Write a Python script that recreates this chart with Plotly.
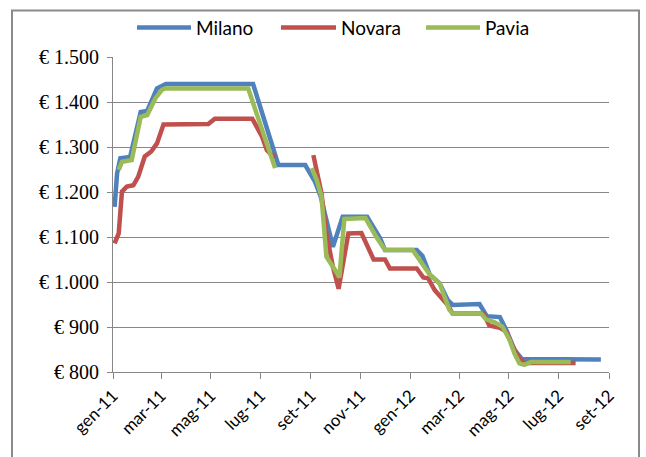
import plotly.graph_objects as go

# Weekly fuel price observations (EUR) for three provinces
series_names = ["Milano", "Novara", "Pavia"]
series_colors = ["#4F81BD", "#C0504D", "#9BBB59"]

milano_dates = [
    "2011-01-03", "2011-01-06", "2011-01-10", "2011-01-22", "2011-02-04", "2011-02-12",
    "2011-02-24", "2011-03-07", "2011-06-22", "2011-07-23", "2011-08-25", "2011-09-06",
    "2011-09-13", "2011-09-28", "2011-10-10", "2011-11-09", "2011-11-25", "2011-12-01",
    "2012-01-09", "2012-01-16", "2012-01-25", "2012-02-06", "2012-02-16", "2012-02-22",
    "2012-03-26", "2012-04-04", "2012-04-20", "2012-04-28", "2012-05-08", "2012-05-17",
    "2012-08-22",
]
milano_values = [
    1167, 1241, 1275, 1278, 1378, 1380,
    1430, 1440, 1440, 1260, 1260, 1223,
    1190, 1078, 1145, 1145, 1097, 1071,
    1071, 1058, 1016, 997, 960, 949,
    951, 924, 922, 893, 849, 829,
    828,
]

novara_dates = [
    "2011-01-03", "2011-01-08", "2011-01-12", "2011-01-18", "2011-01-26", "2011-02-01",
    "2011-02-09", "2011-02-17", "2011-02-24", "2011-03-04", "2011-04-28", "2011-05-06",
    "2011-06-21", "2011-07-03", "2011-07-09", "2011-07-15", "2011-07-20", "2011-08-15",
    "2011-09-04", "2011-09-08", "2011-09-14", "2011-09-20", "2011-09-28", "2011-10-05",
    "2011-10-17", "2011-11-02", "2011-11-17", "2011-12-01", "2011-12-07", "2012-01-09",
    "2012-01-17", "2012-01-23", "2012-01-31", "2012-02-16", "2012-02-22", "2012-03-31",
    "2012-04-07", "2012-04-20", "2012-04-28", "2012-05-05", "2012-05-14", "2012-05-20",
    "2012-07-22",
]
novara_values = [
    1086, 1108, 1201, 1212, 1215, 1234,
    1279, 1290, 1308, 1350, 1351, 1363,
    1363, 1323, 1293, 1282, 1279, None,
    1282, 1249, 1197, 1108, 1034, 985,
    1108, 1109, 1050, 1050, 1030, 1030,
    1010, 1008, 982, 949, 930, 930,
    903, 898, 890, 860, 830, 820,
    820,
]

pavia_dates = [
    "2011-01-08", "2011-01-12", "2011-01-24", "2011-01-30", "2011-02-04", "2011-02-12",
    "2011-02-22", "2011-03-02", "2011-03-06", "2011-06-16", "2011-07-19", "2011-08-15",
    "2011-09-02", "2011-09-08", "2011-09-14", "2011-09-20", "2011-10-02", "2011-10-06",
    "2011-10-12", "2011-11-07", "2011-11-20", "2011-12-01", "2012-01-04", "2012-01-14",
    "2012-01-25", "2012-02-06", "2012-02-13", "2012-02-18", "2012-02-22", "2012-03-28",
    "2012-04-03", "2012-04-13", "2012-04-23", "2012-05-02", "2012-05-08", "2012-05-14",
    "2012-05-20", "2012-05-28", "2012-07-16",
]
pavia_values = [
    1249, 1267, 1271, 1323, 1367, 1371,
    1408, 1427, 1430, 1430, 1253, None,
    1253, 1227, 1190, 1056, 1023, 1010,
    1140, 1142, 1101, 1071, 1071, 1045,
    1016, 997, 965, 938, 930, 930,
    917, 911, 901, 871, 841, 819,
    816, 822, 822,
]

# Axis ticks
y_tick_values = [800, 900, 1000, 1100, 1200, 1300, 1400, 1500]
y_tick_labels = ["€ 800", "€ 900", "€ 1.000", "€ 1.100", "€ 1.200", "€ 1.300", "€ 1.400", "€ 1.500"]
x_tick_values = [
    "2011-01-01", "2011-03-01", "2011-05-01", "2011-07-01", "2011-09-01", "2011-11-01",
    "2012-01-01", "2012-03-01", "2012-05-01", "2012-07-01", "2012-09-01",
]
x_tick_labels = [
    "gen-11", "mar-11", "mag-11", "lug-11", "set-11", "nov-11",
    "gen-12", "mar-12", "mag-12", "lug-12", "set-12",
]

W, H = 646, 457
ML, MR, MT, MB = 113, 37, 57, 85
PW, PH = W - ML - MR, H - MT - MB


def px_x(px):
    return (px - ML) / PW


def px_y(py):
    return (H - MB - py) / PH


AXIS_GRAY = "#878787"

fig = go.Figure()
all_series = [
    (milano_dates, milano_values),
    (novara_dates, novara_values),
    (pavia_dates, pavia_values),
]
for name, color, (d, v) in zip(series_names, series_colors, all_series):
    fig.add_trace(go.Scatter(
        x=d, y=v, name=name, mode="lines",
        line=dict(color=color, width=4.5),
        connectgaps=False, showlegend=False,
    ))

# Legend drawn along the top: long line swatch followed by the name
legend_line_px = [(137, 191), (281, 336), (426, 480)]
shapes = []
annotations = []
for name, color, (x0, x1) in zip(series_names, series_colors, legend_line_px):
    shapes.append(dict(
        type="line", xref="paper", yref="paper",
        x0=px_x(x0), x1=px_x(x1), y0=px_y(27.5), y1=px_y(27.5),
        line=dict(color=color, width=4.5),
    ))
    annotations.append(dict(
        text=name, xref="paper", yref="paper",
        x=px_x(x1 + 3), y=px_y(27.5), xanchor="left", yanchor="middle",
        showarrow=False, font=dict(family="Lato", size=19, color="#000000"),
    ))

# Chart frame
shapes.append(dict(
    type="rect", xref="paper", yref="paper",
    x0=px_x(12), x1=px_x(639), y0=px_y(H + 20), y1=px_y(10.5),
    line=dict(color="#8a8a8a", width=2), fillcolor="rgba(0,0,0,0)", layer="below",
))

fig.update_layout(
    width=W, height=H,
    margin=dict(l=ML, r=MR, t=MT, b=MB, pad=0),
    paper_bgcolor="white", plot_bgcolor="white",
    shapes=shapes, annotations=annotations,
    showlegend=False,
)
fig.update_xaxes(
    type="date", range=["2011-01-01", "2012-09-01"],
    tickmode="array", tickvals=x_tick_values, ticktext=x_tick_labels,
    tickangle=-45, ticks="outside", ticklen=6, tickcolor=AXIS_GRAY,
    showline=True, linecolor=AXIS_GRAY, linewidth=1,
    showgrid=False, zeroline=False,
    tickfont=dict(family="Lato", size=17, color="#000000"),
)
fig.update_yaxes(
    range=[800, 1500],
    tickmode="array", tickvals=y_tick_values, ticktext=y_tick_labels,
    ticks="outside", ticklen=5, tickcolor=AXIS_GRAY, ticklabelstandoff=4,
    showline=True, linecolor=AXIS_GRAY, linewidth=1,
    showgrid=True, gridcolor=AXIS_GRAY, gridwidth=1, zeroline=False,
    tickfont=dict(family="Liberation Serif", size=20, color="#000000"),
)

fig.write_html("out.html")
